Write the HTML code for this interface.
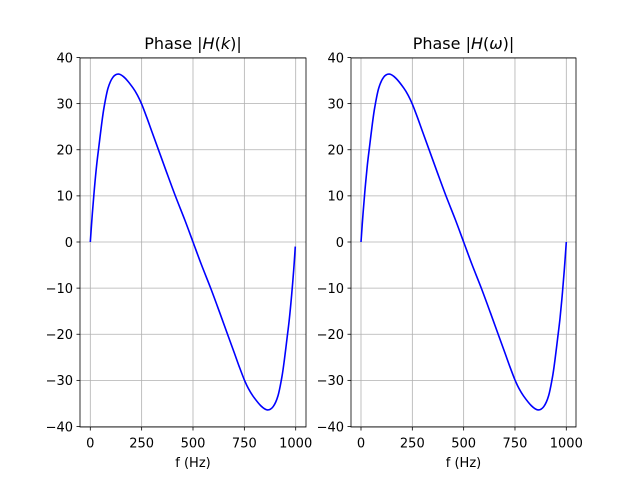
<!DOCTYPE html>
<html><head><meta charset="utf-8"><style>
body{margin:0;background:#fff}
svg{display:block;font-family:"DejaVu Sans","Liberation Sans",sans-serif}
</style></head><body>
<svg id="c" width="640" height="480" xmlns="http://www.w3.org/2000/svg"></svg>
<script>
const freqsHalf=[0,10,20,31,42,55,67,86,110,138,170,208,230,250,275,300,331,370,414,460,500];
const valsHalf=[0,6.2,11.6,16.7,20.8,25.5,29.2,33.3,35.7,36.4,35.5,33.4,31.8,29.9,27.0,23.9,20.1,15.3,10,4.8,0];
const yTicks=[-40,-30,-20,-10,0,10,20,30,40];
const xTicks=[0,250,500,750,1000];
const titlePre=["Phase |",'Phase |'];
const titleArg=["k","ω"];
const endLeft=[998,-1];
const endRight=[1000,0];
function series(end){
  const f=[],v=[];
  for(let i=0;i<freqsHalf.length;i++){f.push(freqsHalf[i]);v.push(valsHalf[i]);}
  for(let i=freqsHalf.length-2;i>=1;i--){f.push(1000-freqsHalf[i]);v.push(-valsHalf[i]);}
  f.push(end[0]);v.push(end[1]);
  return [f,v];
}
const svg=document.getElementById('c');
const NS="http://www.w3.org/2000/svg";
function mk(t,a,p){const e=document.createElementNS(NS,t);for(const k in a)e.setAttribute(k,a[k]);(p||svg).appendChild(e);return e;}
function smoothPath(P){
  let d='M'+P[0][0].toFixed(2)+','+P[0][1].toFixed(2);
  for(let i=0;i<P.length-1;i++){
    const p0=P[Math.max(0,i-1)],p1=P[i],p2=P[i+1],p3=P[Math.min(P.length-1,i+2)];
    const c1=[p1[0]+(p2[0]-p0[0])/6,p1[1]+(p2[1]-p0[1])/6];
    const c2=[p2[0]-(p3[0]-p1[0])/6,p2[1]-(p3[1]-p1[1])/6];
    d+=' C'+c1[0].toFixed(2)+','+c1[1].toFixed(2)+' '+c2[0].toFixed(2)+','+c2[1].toFixed(2)+' '+p2[0].toFixed(2)+','+p2[1].toFixed(2);
  }
  return d;
}
const panels=[{x0:80,x1:306,fx0:90.3,fx1:295.7,end:endLeft},{x0:351,x1:576,fx0:361,fx1:566.3,end:endRight}];
const yTop=58,yBot=427;
const Y=v=>242-v*4.6125;
panels.forEach((p,pi)=>{
  const X=f=>p.fx0+(p.fx1-p.fx0)*f/1000;
  const g=mk('g',{});
  
  
  yTicks.forEach(t=>{
    const l=mk('line',{x1:p.x0,x2:p.x1,y1:Y(t),y2:Y(t),stroke:'#b0b0b0','stroke-width':0.8},g);
    
    mk('line',{x1:p.x0-3.5,x2:p.x0,y1:Y(t),y2:Y(t),stroke:'#000','stroke-width':0.8},g);
    const tx=mk('text',{x:p.x0-7,y:Y(t)+4.8,'text-anchor':'end','font-size':13},g);
    tx.textContent=(t<0?'−':'')+Math.abs(t);
    
  });
  xTicks.forEach(t=>{
    const l=mk('line',{x1:X(t),x2:X(t),y1:yTop,y2:yBot,stroke:'#b0b0b0','stroke-width':0.8},g);
    
    mk('line',{x1:X(t),x2:X(t),y1:yBot,y2:yBot+3.5,stroke:'#000','stroke-width':0.8},g);
    const tx=mk('text',{x:X(t),y:yBot+20.5,'text-anchor':'middle','font-size':13},g);
    tx.textContent=t;
    
  });
  const [f,v]=series(p.end);
  const P=f.map((fi,i)=>[X(fi),Y(v[i])]);
  const pl=mk('path',{d:smoothPath(P),fill:'none',stroke:'#0000ff','stroke-width':1.6,'stroke-linejoin':'round'},g);
  
  const fr=mk('rect',{x:p.x0,y:yTop,width:p.x1-p.x0,height:yBot-yTop,fill:'none',stroke:'#000','stroke-width':0.8},g);
  
  const ti=mk('text',{x:(p.x0+p.x1)/2,y:49,'text-anchor':'middle','font-size':16},g);
  
  const s1=mk('tspan',{},ti);s1.textContent=titlePre[pi];
  const s2=mk('tspan',{'font-style':'italic'},ti);s2.textContent='H';
  const s3=mk('tspan',{},ti);s3.textContent='(';
  const s4=mk('tspan',{'font-style':'italic'},ti);s4.textContent=titleArg[pi];
  const s5=mk('tspan',{},ti);s5.textContent=')|';
  const xl=mk('text',{x:(p.x0+p.x1)/2,y:467,'text-anchor':'middle','font-size':13},g);
  xl.textContent='f (Hz)';
  
});
</script>
</body></html>
